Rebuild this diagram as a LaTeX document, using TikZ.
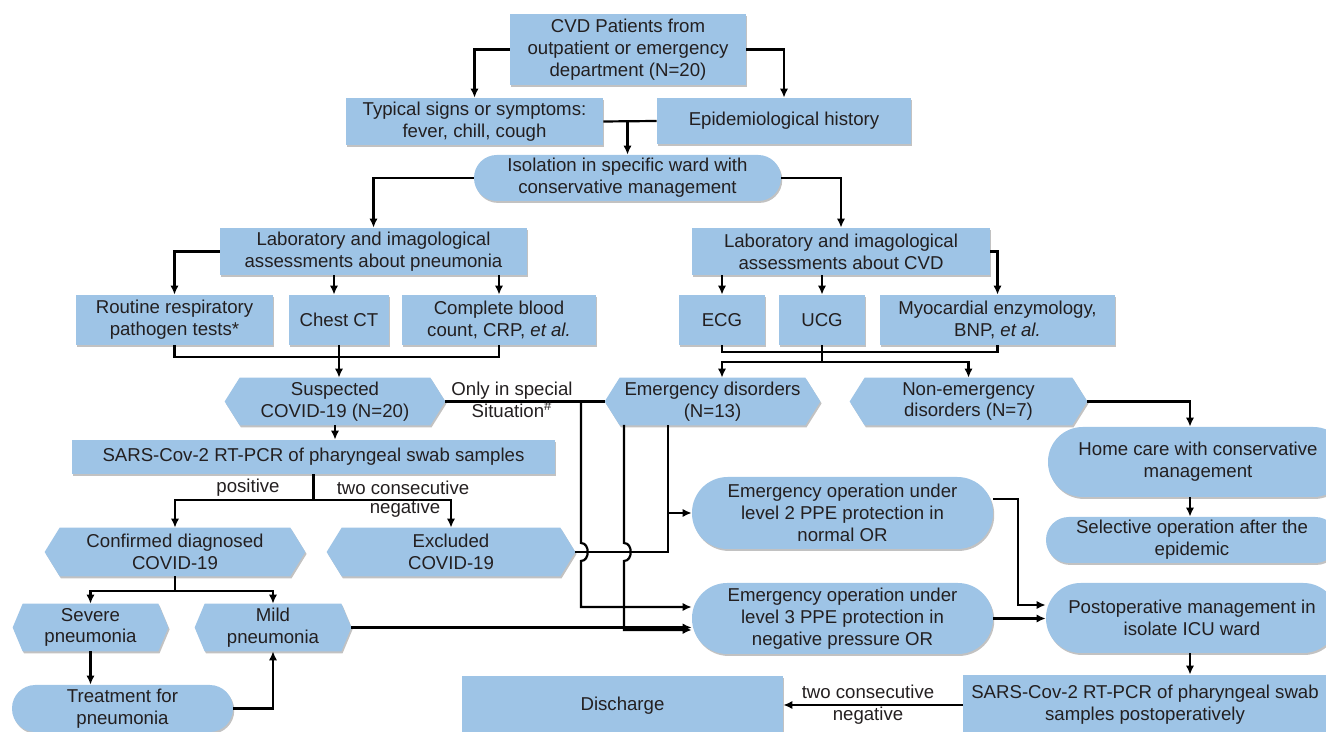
\documentclass[tikz,border=0pt]{standalone}
\usepackage{fontspec}
\setmainfont{Liberation Sans}
\usetikzlibrary{arrows.meta,shadows,calc}
\pgfdeclarelayer{background}
\pgfsetlayers{background,main}
\definecolor{cfill}{RGB}{158,196,230}
\definecolor{ctext}{RGB}{35,31,32}
\newcommand\txtfont{\fontsize{10.6pt}{12.4pt}\selectfont}
\tikzset{
  ww/.style={minimum width=#1*0.02cm},
  hh/.style={minimum height=#1*0.02cm},
  rc/.style={rounded corners=#1*0.0099cm},
  myshadow/.style={drop shadow={shadow xshift=0.7pt, shadow yshift=-1.1pt, opacity=0.4, fill=black!60}},
  box/.style={fill=cfill, myshadow, inner sep=0pt, align=center, text=ctext, font=\txtfont},
  hexn/.style={inner sep=0pt, align=center, text=ctext, font=\txtfont},
  hexfill/.style={fill=cfill, myshadow},
  lbl/.style={inner sep=0pt, align=center, text=ctext, font=\txtfont},
  ln/.style={line width=1.25pt, black},
  arr/.style={ln, -{Latex[length=5.2pt,width=4.8pt]}}
}
\newcommand\hexnode[7]{%
  \node[hexn, ww=#4, hh=#5] (#1) at (#2,#3) {#7};
  \begin{pgfonlayer}{background}
  \fill[hexfill] ([xshift=#6*0.02cm]#1.north west) -- ([xshift=-#6*0.02cm]#1.north east) -- (#1.east)
     -- ([xshift=-#6*0.02cm]#1.south east) -- ([xshift=#6*0.02cm]#1.south west) -- (#1.west) -- cycle;
  \end{pgfonlayer}}
\begin{document}
\begin{tikzpicture}[x=0.02cm,y=-0.02cm]
\useasboundingbox (0,0) rectangle (1326,732);
\clip (0,0) rectangle (1326,732);
% ---- nodes
\node[box, ww=236, hh=71] (cvd) at (628,49.5) {CVD Patients from\\outpatient or emergency\\department (N=20)};
\node[box, ww=257, hh=47] (typ) at (474.5,121.5) {Typical signs or symptoms:\\fever, chill, cough};
\node[box, ww=254, hh=46] (epi) at (784,121) {Epidemiological history};
\node[box, ww=307, hh=46, rc=46] (iso) at (627.5,178) {Isolation in specific ward with\\conservative management};
\node[box, ww=307, hh=47] (labp) at (373.5,251.5) {Laboratory and imagological\\assessments about pneumonia};
\node[box, ww=298, hh=47] (labc) at (841,251.5) {Laboratory and imagological\\assessments about CVD};
\node[box, ww=197, hh=50] (rout) at (174.5,320) {Routine respiratory\\pathogen tests*};
\node[box, ww=100, hh=50] (ct) at (339,320) {Chest CT};
\node[box, ww=194, hh=50] (cbc) at (499,320) {Complete blood\\count, CRP, \textit{et al.}};
\node[box, ww=86, hh=50] (ecg) at (722,320) {ECG};
\node[box, ww=86, hh=50] (ucg) at (822,320) {UCG};
\node[box, ww=235, hh=50] (myo) at (997.5,320) {Myocardial enzymology,\\BNP, \textit{et al.}};
\hexnode{susp}{335}{401.5}{220}{47}{15}{Suspected\\COVID-19 (N=20)}
\hexnode{emer}{712.5}{401.5}{215}{47}{15}{Emergency disorders\\(N=13)}
\hexnode{nonem}{968.5}{401.5}{237}{47}{15}{Non-emergency\\disorders (N=7)}
\node[box, ww=483, hh=34] (pcr) at (313.5,457) {SARS-Cov-2 RT-PCR of pharyngeal swab samples};
\node[box, ww=300, hh=70, rc=70] (home) at (1198,462) {Home care with conservative\\management};
\node[box, ww=301, hh=72, rc=72] (op2) at (842.5,513) {Emergency operation under\\level 2 PPE protection in\\normal OR};
\node[box, ww=292, hh=46, rc=46] (sel) at (1192,540) {Selective operation after the\\epidemic};
\hexnode{conf}{175}{552}{260}{48}{15}{Confirmed diagnosed\\COVID-19}
\hexnode{excl}{451}{552}{248}{48}{15}{Excluded\\COVID-19}
\node[box, ww=301, hh=71, rc=71] (op3) at (842.5,618.5) {Emergency operation under\\level 3 PPE protection in\\negative pressure OR};
\node[box, ww=292, hh=70, rc=70] (post) at (1192,618) {Postoperative management in\\isolate ICU ward};
\hexnode{sev}{90.5}{627.5}{155}{47}{10}{Severe\\pneumonia}
\hexnode{mild}{273}{627.5}{156}{47}{10}{Mild\\pneumonia}
\node[box, ww=221, hh=47, rc=47] (treat) at (122.5,708.5) {Treatment for\\pneumonia};
\node[box, ww=321, hh=60] (disch) at (622.5,706) {Discharge};
\node[box, ww=364, hh=60] (sarp) at (1145,705) {SARS-Cov-2 RT-PCR of pharyngeal swab\\samples postoperatively};
% ---- coordinates
\coordinate (j1) at (339,357);
\coordinate (j2) at (822,352);
\coordinate (j3) at (822,362);
\coordinate (j4) at (313.5,500);
\coordinate (j5) at (175,591);
\coordinate (v1) at (581,401.5);
\coordinate (e1) at (624,425);
\coordinate (e2) at (668,425);
\coordinate (cx) at (1190,0);
% ---- connectors
\draw[arr] (cvd.west) -| (typ.north);
\draw[arr] (cvd.east) -| (epi.north);
\draw[ln] (typ.east) -- (epi.west);
\draw[arr] (iso.north |- typ.east) -- (iso.north);
\draw[arr] (iso.west) -| (labp.north);
\draw[arr] (iso.east) -| (labc.north);
\draw[arr] (labp.west) -| (rout.north);
\draw[arr] ([xshift=-0.1cm]labp.south -| ct.north) -- ([xshift=-0.1cm]ct.north);
\draw[arr] (labp.south -| cbc.north) -- (cbc.north);
\draw[ln] (rout.south) |- (j1) -| (cbc.south);
\draw[ln] (ct.south) -- (j1);
\draw[arr] (j1) -- (j1 |- susp.north);
\draw[arr] (labc.south -| ecg.north) -- (ecg.north);
\draw[arr] (labc.south -| ucg.north) -- (ucg.north);
\draw[arr] (labc.east) -| (myo.north);
\draw[ln] (ecg.south) |- (j2) -| (myo.south);
\draw[ln] (ucg.south) -- (j3);
\draw[arr] (j3) -| (ecg.south |- emer.north);
\draw[arr] (j3) -| (nonem.north);
\draw[arr] (susp.south) -- (susp.south |- pcr.north);
\draw[ln] (pcr.south) -- (j4);
\draw[arr] (j4) -| (conf.north);
\draw[arr] (j4) -| (excl.north);
\node[lbl] (lpos) at (248,488) {positive};
\node[lbl] (ltwo) at (403,488) {two consecutive};
\node[lbl] (lneg) at (405,509) {negative};
\draw[ln] (conf.south) -- (j5);
\draw[arr] (j5) -| (sev.north);
\draw[arr] (j5) -| (mild.north);
\draw[arr] (sev.south) -- (sev.south |- treat.north);
\draw[arr] (treat.east) -| (mild.south);
\draw[arr] (mild.east) -- (mild.east -| op3.west);
\draw[ln] (susp.east) -- (emer.west);
\node[lbl] (lspec) at (512,400) {Only in special\\Situation\textsuperscript{\#}};
\draw[arr] (v1) -- (581,543) .. controls (590,543) and (590,561) .. (581,561) |- ([yshift=0.23cm]op3.west);
\draw[arr] (e1) -- (624,543) .. controls (633,543) and (633,561) .. (624,561) |- ([yshift=-0.23cm]op3.west);
\draw[ln] (excl.east) -| (e2);
\draw[arr] (e2 |- op2.west) -- (op2.west);
\draw[arr] ([yshift=0.28cm]op2.east) -- ++(25,0) |- ([yshift=0.26cm]post.west);
\draw[arr] (op3.east) -- (op3.east -| post.west);
\draw[arr] (nonem.east) -| (home.north -| cx);
\draw[arr] (home.south -| cx) -- (sel.north -| cx);
\draw[arr] (post.south -| cx) -- (sarp.north -| cx);
\draw[arr] (sarp.west) -- (sarp.west -| disch.east);
\node[lbl] (ltwo2) at (868,705) {two consecutive\\negative};
\end{tikzpicture}
\end{document}
